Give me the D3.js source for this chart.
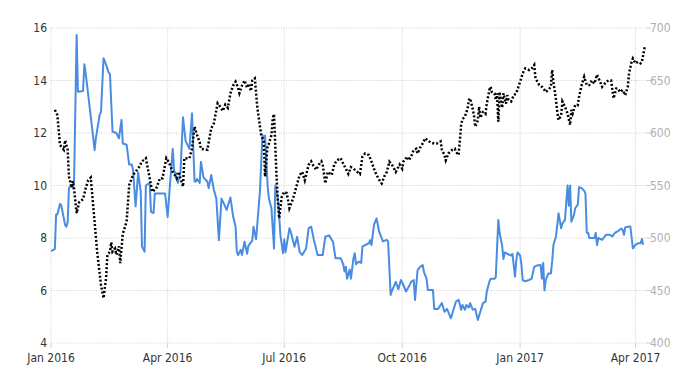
<!DOCTYPE html>
<html>
<head>
<meta charset="utf-8">
<script src="https://cdn.jsdelivr.net/npm/d3@7"></script>
<style>
html,body{margin:0;padding:0;background:#fff;}
svg{display:block;}
text{font-family:"Liberation Sans Narrow","DejaVu Sans Condensed","Liberation Sans",Arial,sans-serif;font-size:12px;}
</style>
</head>
<body>
<svg id="chart" width="700" height="375"></svg>
<script>
// ---- tick labels ----
const leftTicks = [4, 6, 8, 10, 12, 14, 16];
const rightTicks = [400, 450, 500, 550, 600, 650, 700];
const xTickDates = ["2016-01-01","2016-04-01","2016-07-01","2016-10-01","2017-01-01","2017-04-01"];

// ---- blue series (left axis) ----
const blueDates = ["2016-01-01","2016-01-04","2016-01-05","2016-01-06","2016-01-08","2016-01-09","2016-01-12","2016-01-13","2016-01-14","2016-01-15","2016-01-17","2016-01-18","2016-01-19","2016-01-21","2016-01-22","2016-01-26","2016-01-27","2016-01-28","2016-02-03","2016-02-04","2016-02-05","2016-02-08","2016-02-09","2016-02-11","2016-02-13","2016-02-15","2016-02-16","2016-02-18","2016-02-21","2016-02-23","2016-02-25","2016-02-26","2016-02-29","2016-03-02","2016-03-04","2016-03-05","2016-03-07","2016-03-09","2016-03-11","2016-03-12","2016-03-14","2016-03-15","2016-03-18","2016-03-19","2016-03-21","2016-03-22","2016-03-24","2016-03-30","2016-04-01","2016-04-03","2016-04-05","2016-04-06","2016-04-09","2016-04-11","2016-04-13","2016-04-15","2016-04-18","2016-04-20","2016-04-22","2016-04-23","2016-04-24","2016-04-26","2016-04-27","2016-04-29","2016-05-01","2016-05-02","2016-05-03","2016-05-05","2016-05-07","2016-05-09","2016-05-11","2016-05-13","2016-05-15","2016-05-17","2016-05-20","2016-05-22","2016-05-24","2016-05-25","2016-05-26","2016-05-28","2016-05-29","2016-05-31","2016-06-02","2016-06-03","2016-06-06","2016-06-07","2016-06-09","2016-06-12","2016-06-14","2016-06-15","2016-06-16","2016-06-18","2016-06-19","2016-06-21","2016-06-23","2016-06-24","2016-06-26","2016-06-27","2016-06-28","2016-06-30","2016-07-01","2016-07-02","2016-07-05","2016-07-06","2016-07-09","2016-07-11","2016-07-13","2016-07-15","2016-07-18","2016-07-20","2016-07-22","2016-07-24","2016-07-27","2016-07-31","2016-08-02","2016-08-05","2016-08-08","2016-08-10","2016-08-14","2016-08-16","2016-08-17","2016-08-18","2016-08-19","2016-08-21","2016-08-22","2016-08-24","2016-08-25","2016-08-26","2016-08-28","2016-08-30","2016-08-31","2016-09-02","2016-09-05","2016-09-06","2016-09-07","2016-09-09","2016-09-11","2016-09-13","2016-09-14","2016-09-16","2016-09-19","2016-09-20","2016-09-22","2016-09-23","2016-09-26","2016-09-28","2016-09-30","2016-10-02","2016-10-04","2016-10-06","2016-10-08","2016-10-10","2016-10-11","2016-10-13","2016-10-15","2016-10-17","2016-10-18","2016-10-20","2016-10-21","2016-10-25","2016-10-26","2016-10-29","2016-10-31","2016-11-01","2016-11-03","2016-11-05","2016-11-08","2016-11-10","2016-11-12","2016-11-14","2016-11-16","2016-11-17","2016-11-19","2016-11-20","2016-11-22","2016-11-23","2016-11-25","2016-11-27","2016-11-29","2016-12-01","2016-12-03","2016-12-05","2016-12-06","2016-12-08","2016-12-09","2016-12-12","2016-12-13","2016-12-15","2016-12-16","2016-12-18","2016-12-19","2016-12-20","2016-12-22","2016-12-25","2016-12-26","2016-12-28","2016-12-29","2016-12-30","2017-01-01","2017-01-02","2017-01-03","2017-01-05","2017-01-08","2017-01-10","2017-01-12","2017-01-14","2017-01-17","2017-01-18","2017-01-19","2017-01-20","2017-01-21","2017-01-23","2017-01-25","2017-01-26","2017-01-27","2017-01-29","2017-01-31","2017-02-02","2017-02-03","2017-02-05","2017-02-07","2017-02-08","2017-02-09","2017-02-10","2017-02-12","2017-02-13","2017-02-15","2017-02-16","2017-02-18","2017-02-20","2017-02-21","2017-02-22","2017-02-23","2017-02-24","2017-02-28","2017-03-01","2017-03-02","2017-03-03","2017-03-06","2017-03-09","2017-03-12","2017-03-14","2017-03-16","2017-03-18","2017-03-21","2017-03-22","2017-03-23","2017-03-24","2017-03-27","2017-03-28","2017-03-30","2017-04-01","2017-04-03","2017-04-05","2017-04-06","2017-04-07"];
const blueValues = [7.5,7.58,8.9,8.9,9.3,9.25,8.5,8.43,8.6,9.9,10.0,9.9,10.15,15.73,13.57,13.6,14.62,14.3,11.8,11.35,11.8,12.7,12.8,14.85,14.6,14.3,14.25,12.05,12.0,11.8,12.5,11.6,11.55,10.8,10.8,10.6,9.2,10.5,9.77,7.67,7.48,10.0,10.1,9.0,8.95,9.7,9.7,9.7,8.8,10.15,11.4,10.6,10.1,10.5,12.6,11.7,11.4,12.75,10.15,10.15,10.25,10.1,10.9,10.3,10.2,10.15,9.9,10.4,9.85,9.5,7.92,9.5,9.3,9.07,9.54,8.85,8.43,7.48,7.35,7.55,7.35,7.86,7.4,7.7,7.9,8.43,7.95,9.77,11.92,11.8,11.9,10.0,9.5,9.13,7.6,10.0,9.5,8.85,8.1,7.42,7.95,7.46,8.37,8.25,7.67,8.05,7.46,7.35,7.6,8.37,8.43,7.95,7.35,7.35,8.05,8.1,7.86,7.23,7.23,7.0,6.72,6.9,6.45,6.8,6.45,7.23,7.42,7.0,7.1,7.05,7.67,7.73,7.8,7.92,7.73,8.5,8.75,8.24,8.12,7.87,7.93,7.87,5.83,5.99,6.33,6.05,6.4,6.2,5.96,6.13,6.33,6.4,5.64,6.78,6.9,6.97,6.7,6.45,6.02,6.02,5.3,5.3,5.45,5.52,5.19,5.3,4.94,5.27,5.58,5.65,5.27,5.45,5.27,5.45,5.35,5.52,5.27,5.3,4.88,5.2,5.52,5.58,5.96,6.33,6.45,6.45,6.5,8.69,8.2,7.7,7.2,7.45,7.4,7.33,7.4,6.53,7.15,7.45,7.33,7.0,6.4,6.35,6.4,6.45,6.9,6.95,6.97,6.45,7.05,6.0,6.4,6.65,6.65,7.1,7.73,8.06,8.94,8.37,8.56,8.69,10.0,9.23,10.0,8.62,8.88,9.14,9.27,9.94,9.9,9.8,9.68,8.2,8.2,8.0,8.0,8.2,7.73,8.0,7.93,8.12,8.12,8.06,8.2,8.25,8.36,8.31,8.12,8.4,8.44,8.44,7.6,7.74,7.8,7.8,7.96,7.74];

// ---- black dotted series (right axis) ----
const blackDates = ["2016-01-04","2016-01-06","2016-01-08","2016-01-11","2016-01-12","2016-01-14","2016-01-15","2016-01-17","2016-01-18","2016-01-19","2016-01-21","2016-01-23","2016-01-26","2016-01-28","2016-01-30","2016-02-01","2016-02-04","2016-02-06","2016-02-09","2016-02-11","2016-02-13","2016-02-14","2016-02-16","2016-02-17","2016-02-18","2016-02-20","2016-02-21","2016-02-23","2016-02-24","2016-02-26","2016-02-29","2016-03-02","2016-03-05","2016-03-07","2016-03-10","2016-03-12","2016-03-15","2016-03-18","2016-03-20","2016-03-23","2016-03-26","2016-03-28","2016-03-31","2016-04-02","2016-04-05","2016-04-08","2016-04-09","2016-04-10","2016-04-13","2016-04-14","2016-04-17","2016-04-18","2016-04-20","2016-04-22","2016-04-24","2016-04-26","2016-04-27","2016-05-02","2016-05-05","2016-05-07","2016-05-10","2016-05-12","2016-05-14","2016-05-16","2016-05-18","2016-05-20","2016-05-22","2016-05-24","2016-05-26","2016-05-27","2016-05-29","2016-05-31","2016-06-02","2016-06-03","2016-06-05","2016-06-06","2016-06-08","2016-06-10","2016-06-13","2016-06-15","2016-06-16","2016-06-18","2016-06-19","2016-06-21","2016-06-22","2016-06-23","2016-06-25","2016-06-26","2016-06-27","2016-06-29","2016-07-01","2016-07-03","2016-07-05","2016-07-08","2016-07-10","2016-07-13","2016-07-15","2016-07-17","2016-07-20","2016-07-22","2016-07-24","2016-07-26","2016-07-28","2016-07-30","2016-07-31","2016-08-02","2016-08-04","2016-08-07","2016-08-09","2016-08-11","2016-08-14","2016-08-16","2016-08-18","2016-08-20","2016-08-22","2016-08-24","2016-08-27","2016-08-29","2016-08-31","2016-09-02","2016-09-05","2016-09-07","2016-09-09","2016-09-11","2016-09-13","2016-09-15","2016-09-17","2016-09-19","2016-09-21","2016-09-23","2016-09-26","2016-09-29","2016-10-01","2016-10-02","2016-10-05","2016-10-06","2016-10-08","2016-10-10","2016-10-12","2016-10-13","2016-10-15","2016-10-17","2016-10-19","2016-10-21","2016-10-23","2016-10-26","2016-10-28","2016-10-31","2016-11-01","2016-11-03","2016-11-04","2016-11-06","2016-11-09","2016-11-11","2016-11-12","2016-11-14","2016-11-16","2016-11-17","2016-11-19","2016-11-21","2016-11-22","2016-11-23","2016-11-25","2016-11-26","2016-11-27","2016-11-29","2016-11-30","2016-12-01","2016-12-03","2016-12-04","2016-12-05","2016-12-06","2016-12-08","2016-12-09","2016-12-10","2016-12-12","2016-12-13","2016-12-14","2016-12-15","2016-12-16","2016-12-17","2016-12-18","2016-12-19","2016-12-21","2016-12-22","2016-12-23","2016-12-25","2016-12-27","2016-12-29","2016-12-31","2017-01-01","2017-01-03","2017-01-05","2017-01-08","2017-01-10","2017-01-12","2017-01-13","2017-01-16","2017-01-18","2017-01-20","2017-01-21","2017-01-23","2017-01-25","2017-01-26","2017-01-27","2017-01-29","2017-01-30","2017-01-31","2017-02-02","2017-02-03","2017-02-05","2017-02-07","2017-02-09","2017-02-10","2017-02-11","2017-02-13","2017-02-15","2017-02-16","2017-02-18","2017-02-20","2017-02-22","2017-02-24","2017-02-26","2017-02-28","2017-03-02","2017-03-04","2017-03-06","2017-03-08","2017-03-09","2017-03-11","2017-03-13","2017-03-14","2017-03-15","2017-03-17","2017-03-18","2017-03-20","2017-03-22","2017-03-24","2017-03-26","2017-03-27","2017-03-29","2017-03-30","2017-04-01","2017-04-03","2017-04-05","2017-04-06","2017-04-07","2017-04-08","2017-04-10"];
const blackValues = [622,617,588.6,584,593,584,558.5,548,554,547,523.6,534,537,547,555,557.5,515.6,487,455.3,442.7,462,484,487,496,487,490,484,492,476,504,515.6,550.5,560,563,568,573,576,557,544,547,557,557,576,572,563,557,563,561,549,576,576,576,585,606,598,591,584.8,584,604.5,609,628.3,625,621,627,624,637.8,645,648.9,643,638,645,650,643,647,640,650,652,624,598,592,558.5,588,589.7,598,614,618,557,536,518.8,539,544,542.5,528.4,538,547,560,563,555,569.6,573,568,565,570,573,570,552,563,560,570,574,576,570.7,566,561,567.5,566,563,561,577.5,580.5,579,573,566,560,555.5,552,558.5,563,572.7,570,563,570,566,573,577.5,574,577.5,584,585,580.5,586,590,595,593,591,590,590,592,584,579,574,580.5,584,585,582,579,607.6,613,616,623,631.5,633,623,617,606,612,625,614.5,620,620,618.5,628,641,644,639,637.7,631.5,637.7,610.8,639,630,624,637.7,628,636,631.5,630,636,637.7,645.6,648.6,656.8,661.5,660,661.5,664.8,652,645.6,644,641,639,641,644,660,648.6,631.5,620,612.4,617,630,625,618.5,607.6,622,618.5,626.5,626.5,634.5,645.6,653.5,645.6,645.6,650,647,655.6,650,644,647,648.6,650,650,641,633,642.5,642.5,639,641,636,644,656.8,667.8,671,666.3,667.8,666.3,667.8,674,680.6,681];

const parse = d3.timeParse("%Y-%m-%d");
const blueData = blueDates.map((d, i) => ({date: parse(d), value: blueValues[i]}));
const blackData = blackDates.map((d, i) => ({date: parse(d), value: blackValues[i]}));

const svg = d3.select("#chart");
const plotLeft = 51, plotRight = 647, plotTop = 28, plotBottom = 343;

const x = d3.scaleTime().domain([parse("2016-01-01"), parse("2017-04-10")]).range([plotLeft, plotRight]);
const yL = d3.scaleLinear().domain([4, 16]).range([plotBottom, plotTop]);
const yR = d3.scaleLinear().domain([400, 700]).range([plotBottom, plotTop]);

// horizontal gridlines
svg.append("g").selectAll("line").data(leftTicks).join("line")
  .attr("x1", plotLeft).attr("x2", plotRight)
  .attr("y1", d => yL(d)).attr("y2", d => yL(d))
  .attr("stroke", "#cfcfcf").attr("stroke-width", 1).attr("stroke-dasharray", "1,1.5");
// right short solid ticks
svg.append("g").selectAll("line").data(rightTicks).join("line")
  .attr("x1", plotRight).attr("x2", plotRight + 4)
  .attr("y1", d => yR(d)).attr("y2", d => yR(d))
  .attr("stroke", "#cfcfcf").attr("stroke-width", 1);

// vertical gridlines
const xTicks = xTickDates.map(parse);
svg.append("g").selectAll("line").data(xTicks).join("line")
  .attr("x1", d => x(d)).attr("x2", d => x(d))
  .attr("y1", plotTop).attr("y2", plotBottom)
  .attr("stroke", "#cfcfcf").attr("stroke-width", 1).attr("stroke-dasharray", "1,1.5");
svg.append("g").selectAll("line").data(xTicks).join("line")
  .attr("x1", d => x(d)).attr("x2", d => x(d))
  .attr("y1", plotBottom).attr("y2", plotBottom + 5)
  .attr("stroke", "#cfcfcf").attr("stroke-width", 1);

// axis labels
svg.append("g").selectAll("text").data(leftTicks).join("text")
  .attr("x", plotLeft - 4).attr("y", d => yL(d)).attr("dy", "0.35em")
  .attr("text-anchor", "end").attr("fill", "#333").text(d => d);
svg.append("g").selectAll("text").data(rightTicks).join("text")
  .attr("x", plotRight + 3).attr("y", d => yR(d)).attr("dy", "0.35em")
  .attr("text-anchor", "start").attr("fill", "#b0b0b0").text(d => d);
const fmt = d3.timeFormat("%b %Y");
svg.append("g").selectAll("text").data(xTicks).join("text")
  .attr("x", d => x(d)).attr("y", 362)
  .attr("text-anchor", "middle").attr("fill", "#333").text(d => fmt(d));

// lines
const lineL = d3.line().x(d => x(d.date)).y(d => yL(d.value));
const lineR = d3.line().x(d => x(d.date)).y(d => yR(d.value));

svg.append("path").datum(blueData).attr("d", lineL)
  .attr("fill", "none").attr("stroke", "#4a8ce0").attr("stroke-width", 2)
  .attr("stroke-linejoin", "round");
svg.append("path").datum(blackData).attr("d", lineR)
  .attr("fill", "none").attr("stroke", "#000").attr("stroke-width", 2.5)
  .attr("stroke-dasharray", "2,2");
</script>
</body>
</html>
